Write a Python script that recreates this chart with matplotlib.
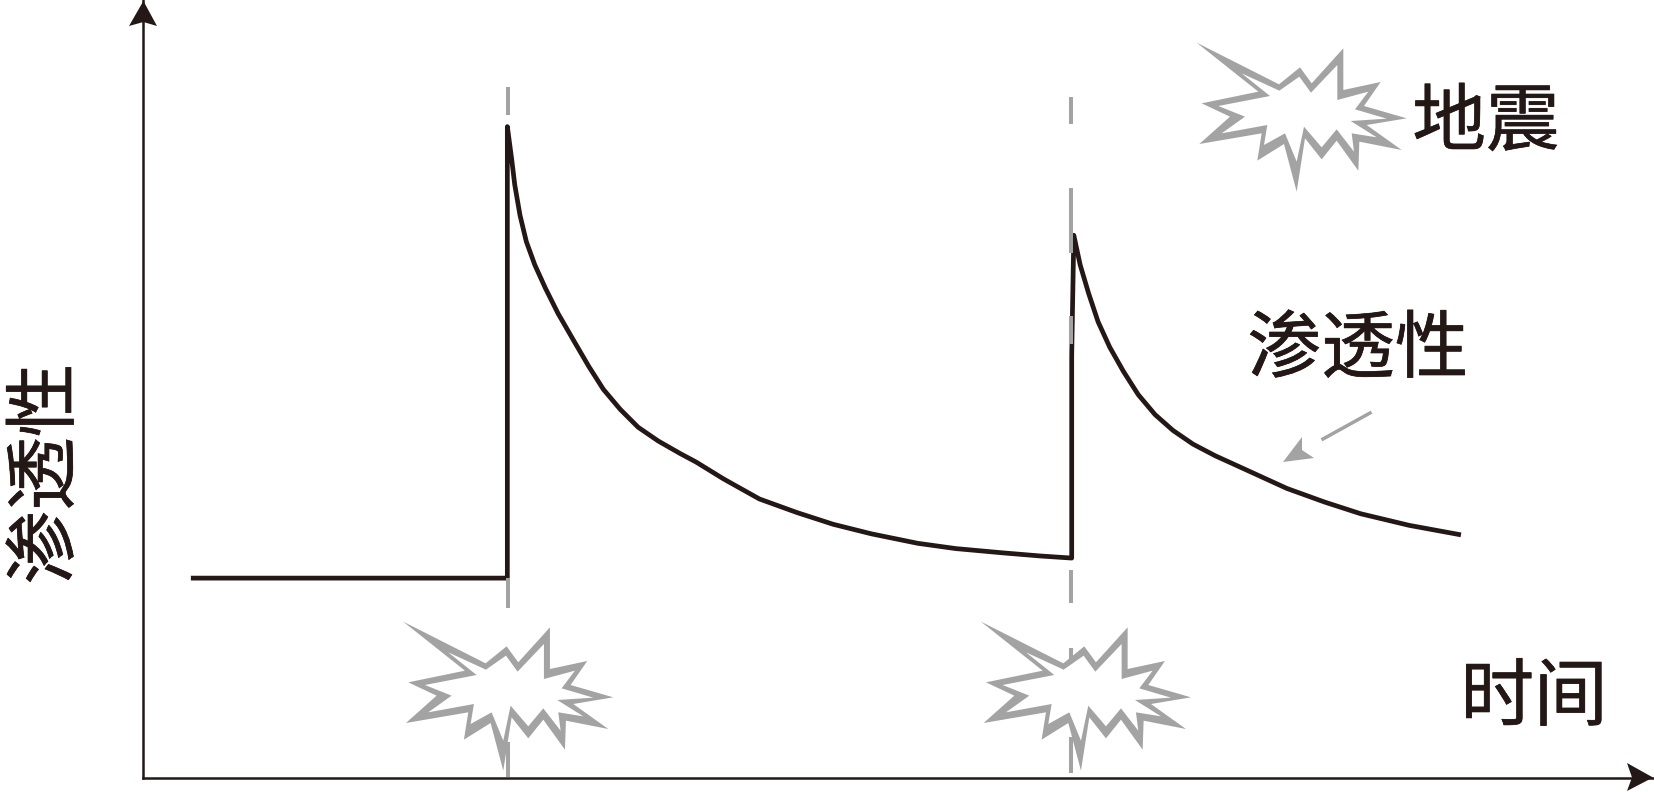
import numpy as np
import matplotlib
matplotlib.use('Agg')
import matplotlib.pyplot as plt
import matplotlib.patheffects as pe

plt.rcParams['font.family'] = ['Noto Sans CJK SC', 'DejaVu Sans']

W, H = 1654, 792
BLACK = '#231815'
GRAY = '#a3a3a3'

# permeability curve
base_time = [45, 345]
base_perm = [189, 189]
decay1_time = [345, 349, 352, 357, 363, 371, 381, 393, 408, 422, 436, 452, 469, 488, 509,
               524, 550, 584, 620, 654, 690, 734, 770, 814, 850, 880]
decay1_perm = [617, 587, 562, 533, 508, 486, 464, 440, 414, 390, 368, 349, 332, 319, 307,
               299, 283, 264, 251, 240, 231, 222, 217, 213, 210, 208]
decay2_time = [880, 882, 888, 896, 905, 916, 929, 943, 959, 976, 995, 1016, 1038,
               1084, 1120, 1154, 1200, 1249]
decay2_perm = [400, 514, 486, 459, 432, 408, 385, 363, 344, 329, 316, 305, 295,
               274, 261, 250, 239, 230]

# burst shape, outer and inner edge, in 3x zoom pixels of the reference
burst_outer_x = [50, 297, 360, 395, 490, 490, 602, 552, 680, 560, 665, 538, 535, 470, 425, 375, 350, 312, 232, 245, 58, 150, 65, 235]
burst_outer_y = [68, 193, 142, 190, 85, 210, 186, 258, 295, 315, 390, 365, 452, 362, 418, 355, 515, 372, 422, 340, 372, 290, 250, 215]
burst_inner_x = [185, 298, 358, 393, 472, 472, 565, 525, 620, 512, 590, 515, 522, 470, 425, 372, 350, 315, 252, 262, 125, 195, 115, 270]
burst_inner_y = [160, 212, 170, 218, 135, 240, 215, 268, 296, 303, 352, 340, 395, 328, 382, 320, 425, 340, 375, 315, 340, 290, 258, 228]
# legend burst, first quake burst, second quake burst
burst_origin = [(1180, 20), (386.6, 599), (964.3, 599)]

# grey dashes of the two quakes (x, top, bottom)
quake_dashes = [(507.5, 87, 115), (507.5, 578, 608), (507.5, 742, 777),
                (1071, 97, 124), (1071, 188, 253), (1071, 316, 344),
                (1071, 570, 603), (1071, 648, 660), (1071, 737, 773)]

labels = [('地震', 1486, 124, 0), ('渗透性', 1358, 351, 0), ('时间', 1534, 699, 0), ('渗透性', 47, 474, 90)]

fig = plt.figure(figsize=(W / 100, H / 100), dpi=100)

ax = fig.add_axes([143.4 / W, 14.5 / H, (W - 143.4) / W, (H - 14.5) / H])
ax.set_xlim(0, 1432)
ax.set_ylim(0, 737)
ax.patch.set_alpha(0)
for side in ['top', 'right']:
    ax.spines[side].set_visible(False)
for side in ['left', 'bottom']:
    ax.spines[side].set_linewidth(1.8)
    ax.spines[side].set_color(BLACK)
ax.set_xticks([])
ax.set_yticks([])

curve_time = base_time + decay1_time + decay2_time
curve_perm = base_perm + decay1_perm + decay2_perm
ax.plot(curve_time, curve_perm, color=BLACK, lw=3.4, solid_joinstyle='round', solid_capstyle='butt')

# overlay in picture pixels for the annotations
over = fig.add_axes([0, 0, 1, 1])
over.set_xlim(0, W)
over.set_ylim(H, 0)
over.axis('off')

for ox, oy in burst_origin:
    over.fill(np.array(burst_outer_x) / 3 + ox, np.array(burst_outer_y) / 3 + oy, color=GRAY, lw=0, zorder=2)
    over.fill(np.array(burst_inner_x) / 3 + ox, np.array(burst_inner_y) / 3 + oy, color='white', lw=0, zorder=2.5)

for x, top, bottom in quake_dashes:
    over.plot([x, x], [top, bottom], color=GRAY, lw=2.9, solid_capstyle='butt', zorder=3)

# axis arrow heads
over.fill([143.4, 129, 143.4, 157], [1, 26, 22, 26], color=BLACK, lw=0)
over.fill([1653, 1627, 1632, 1627], [777.5, 763, 777.5, 791], color=BLACK, lw=0)

# arrow pointing at the curve
over.plot([1370, 1323], [413, 439], color=GRAY, lw=2.5)
over.fill([1283, 1302, 1302, 1314], [462, 437, 450, 458], color=GRAY, lw=0)

for text, x, y, rot in labels:
    over.text(x, y, text, fontsize=53, color=BLACK, ha='center', va='center', rotation=rot,
              path_effects=[pe.withStroke(linewidth=0.5, foreground=BLACK)])

fig.savefig('out.png', dpi=100)
